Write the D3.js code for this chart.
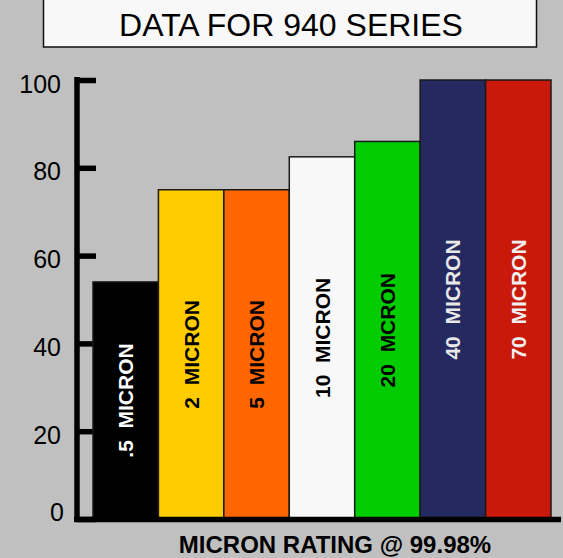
<!DOCTYPE html>
<html>
<head>
<meta charset="utf-8">
<script src="https://cdn.jsdelivr.net/npm/d3@7"></script>
<style>
  html, body { margin: 0; padding: 0; background: #c0c0c0; }
  svg { display: block; }
  text { font-family: "Liberation Sans", Arial, sans-serif; }
</style>
</head>
<body>
<div id="chart"></div>
<script>
const labels = [".5  MICRON", "2  MICRON", "5  MICRON", "10  MICRON", "20  MCRON", "40  MICRON", "70  MICRON"];
const values = [54, 75, 75, 82.5, 86, 100, 100];
const fills = ["#000000", "#ffcc00", "#ff6600", "#f8f8f8", "#00cc00", "#242a60", "#c8190a"];
const textColors = ["#ffffff", "#000000", "#000000", "#000000", "#000000", "#e8e8e8", "#f0f0f0"];
const yTicks = [0, 20, 40, 60, 80, 100];

const width = 563, height = 558;

const svg = d3.select("#chart").append("svg")
  .attr("width", width)
  .attr("height", height);

svg.append("rect")
  .attr("width", width).attr("height", height)
  .attr("fill", "#c0c0c0");

/* title box */
svg.append("rect")
  .attr("x", 43.5).attr("y", -1)
  .attr("width", 493).attr("height", 48)
  .attr("fill", "#f8f8f8")
  .attr("stroke", "#111")
  .attr("stroke-width", 1.5);
svg.append("text")
  .attr("x", 291).attr("y", 36)
  .attr("text-anchor", "middle")
  .attr("font-size", 32)
  .attr("fill", "#000")
  .text("DATA FOR 940 SERIES");

/* scales */
const x = d3.scaleBand()
  .domain(labels)
  .range([93, 551])
  .padding(0);
const y = d3.scaleLinear()
  .domain([0, 100])
  .range([519, 80]);

/* y axis: ticks pointing right, labels on left */
const yAxis = d3.axisLeft(y)
  .tickValues(yTicks)
  .tickSize(-19)
  .tickSizeOuter(0)
  .tickPadding(16);
const gy = svg.append("g")
  .attr("transform", "translate(77,0)")
  .call(yAxis);
gy.select(".domain").remove();
gy.selectAll(".tick line")
  .attr("stroke", "#000")
  .attr("stroke-width", 5.5);
gy.selectAll(".tick text")
  .attr("font-family", "'Liberation Sans', Arial, sans-serif")
  .attr("font-size", 25)
  .attr("fill", "#000")
  .attr("dy", d => d === 0 ? 1 : 12)
  .attr("x", d => d === 0 ? -13 : -16);

/* bars */
const bars = svg.append("g");
bars.selectAll("rect")
  .data(labels)
  .join("rect")
  .attr("x", d => x(d))
  .attr("y", (d, i) => y(values[i]))
  .attr("width", x.bandwidth())
  .attr("height", (d, i) => y(0) - y(values[i]))
  .attr("fill", (d, i) => fills[i])
  .attr("stroke", "#1a1a1a")
  .attr("stroke-width", 1.5);

bars.selectAll("text")
  .data(labels)
  .join("text")
  .attr("transform", (d, i) => `translate(${x(d) + x.bandwidth() / 2}, ${(y(values[i]) + y(0)) / 2}) rotate(-90)`)
  .attr("y", 7.5)
  .attr("text-anchor", "middle")
  .attr("font-size", 21)
  .attr("font-weight", "bold")
  .attr("fill", (d, i) => textColors[i])
  .style("white-space", "pre")
  .text(d => d);

/* axis lines */
svg.append("line")
  .attr("x1", 77).attr("x2", 77)
  .attr("y1", y(100) - 3).attr("y2", y(0) + 3)
  .attr("stroke", "#000").attr("stroke-width", 5.5);
svg.append("line")
  .attr("x1", 74).attr("x2", 561)
  .attr("y1", y(0) + 0.5).attr("y2", y(0) + 0.5)
  .attr("stroke", "#000").attr("stroke-width", 5.5);

/* x axis title */
svg.append("text")
  .attr("x", 335).attr("y", 553)
  .attr("text-anchor", "middle")
  .attr("font-size", 24)
  .attr("font-weight", "bold")
  .attr("fill", "#000")
  .text("MICRON RATING @ 99.98%");
</script>
</body>
</html>
